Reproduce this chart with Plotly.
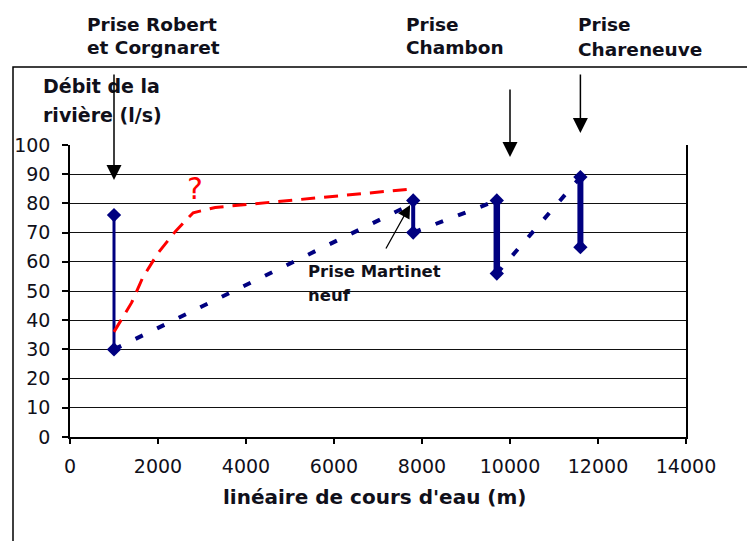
import plotly.graph_objects as go

# ---------------- data ----------------
station_names = ["Prise Robert et Corgnaret", "Prise Martinet neuf", "Prise Chambon", "Prise Chareneuve"]
station_x = [1000, 7800, 9700, 11600]
debit_max = [76, 81, 81, 89]
debit_min = [30, 70, 56, 65]

# blue dotted trend between stations
trend_x = [1000, 7800, None, 7800, 9700, None, 9700, 11600]
trend_y = [30, 80, None, 70, 81, None, 56, 89]

# red dashed hypothetical curve
hypo_x = [1000, 1400, 1650, 2000, 2400, 2800, 3300, 7800]
hypo_y = [36, 46, 54.5, 63, 70.5, 76.8, 78.6, 85]

x_ticks = [0, 2000, 4000, 6000, 8000, 10000, 12000, 14000]
y_ticks = [0, 10, 20, 30, 40, 50, 60, 70, 80, 90, 100]

# ---------------- style ----------------
NAVY = "#000080"
TXT = "#10101a"
FONT = "DejaVu Sans"
bar_widths = [3, 4, 6.5, 6]

W, H = 747, 541
ML, MR, MT, MB = 70, 61, 145, 104
PW, PH = W - ML - MR, H - MT - MB


def px_x(px):
    return (px - ML) / PW


def px_y(py):
    return (H - MB - py) / PH


fig = go.Figure()

fig.add_trace(go.Scatter(
    x=trend_x, y=trend_y, mode="lines", connectgaps=False,
    line=dict(color=NAVY, width=4, dash="8px,16px"), hoverinfo="skip", showlegend=False))

for sx, hi, lo, w in zip(station_x, debit_max, debit_min, bar_widths):
    fig.add_trace(go.Scatter(
        x=[sx, sx], y=[lo, hi], mode="lines+markers",
        line=dict(color=NAVY, width=w),
        marker=dict(symbol="diamond", size=11, color=NAVY),
        showlegend=False))

fig.add_trace(go.Scatter(
    x=hypo_x, y=hypo_y, mode="lines",
    line=dict(color="#ff0000", width=3, dash="14px,9px"), showlegend=False))

annotations = []


def label(text, px, py, size=18.5, bold=True, color=TXT):
    annotations.append(dict(
        text=f"<b>{text}</b>" if bold else text,
        xref="paper", yref="paper", x=px_x(px), y=px_y(py),
        xanchor="left", yanchor="middle", showarrow=False,
        font=dict(family=FONT, size=size, color=color)))


label("Prise Robert", 85, 25)
label("et Corgnaret", 85, 48)
label("Prise", 404, 25)
label("Chambon", 404, 48)
label("Prise", 576, 25)
label("Chareneuve", 576, 50)
label("Débit de la", 41, 86, size=19)
label("rivière (l/s)", 41, 115, size=19)
label("Prise Martinet", 306, 271, size=16.5)
label("neuf", 306, 295, size=16.5)

# x-axis title
annotations.append(dict(
    text="<b>linéaire de cours d'eau (m)</b>", xref="paper", yref="paper",
    x=px_x(375), y=px_y(497), xanchor="center", yanchor="middle", showarrow=False,
    font=dict(family=FONT, size=20, color=TXT)))

# question mark
annotations.append(dict(
    text="?", xref="x", yref="paper", x=2850, y=px_y(188),
    xanchor="center", yanchor="middle", showarrow=False,
    font=dict(family=FONT, size=30, color="#ff0000")))


def arrow(x, tip_py, ay, ax=0, width=1.5, size=2.0):
    annotations.append(dict(
        text="", xref="x", yref="paper", x=x, y=px_y(tip_py),
        ax=ax, ay=ay, showarrow=True, arrowhead=2, arrowsize=size,
        arrowwidth=width, arrowcolor="black"))


arrow(1000, 180, -107)
arrow(10000, 157, -69)
arrow(11600, 133, -60)
arrow(7730, 205, 45, ax=-25, width=1.3, size=2.0)

fig.update_layout(
    width=W, height=H,
    margin=dict(l=ML, r=MR, t=MT, b=MB, pad=0),
    paper_bgcolor="white", plot_bgcolor="white",
    showlegend=False,
    annotations=annotations,
    shapes=[dict(type="rect", xref="paper", yref="paper",
                 x0=px_x(13), x1=2, y0=-2, y1=px_y(67),
                 line=dict(color="black", width=1.5), layer="below")],
    xaxis=dict(range=[0, 14000], tickvals=x_ticks, ticktext=[str(v) for v in x_ticks],
               showgrid=False, zeroline=False, showline=True, linecolor="black", linewidth=1.5,
               ticks="outside", ticklen=5, tickwidth=1.5, tickcolor="black",
               tickfont=dict(family=FONT, size=19, color=TXT), ticklabelstandoff=6),
    yaxis=dict(range=[0, 100], tickvals=y_ticks, showgrid=True, gridcolor="#111111", gridwidth=1.3,
               zeroline=False, showline=True, mirror=True, linecolor="black", linewidth=1.5,
               ticks="outside", ticklen=6, tickwidth=1.5, tickcolor="black",
               tickfont=dict(family=FONT, size=19, color=TXT), ticklabelstandoff=8),
)

fig.write_html("out.html", config={"displayModeBar": False},
               post_script="document.body.style.margin='0';document.body.style.overflow='hidden';")
